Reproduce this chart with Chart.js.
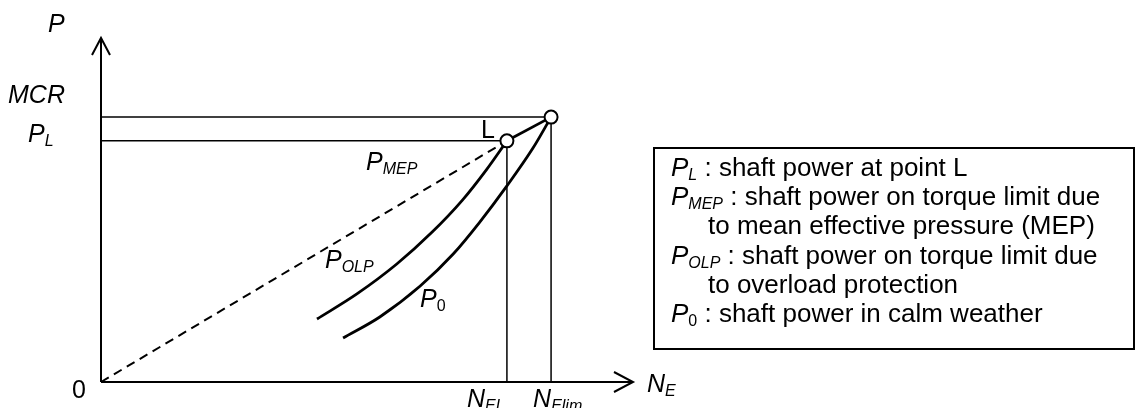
<!DOCTYPE html>
<html><head><meta charset="utf-8">
<script src="https://cdn.jsdelivr.net/npm/chart.js@4/dist/chart.umd.min.js"></script>
<style>html,body{margin:0;padding:0;background:#fff;overflow:hidden}#wrap{position:relative;width:1135px;height:408px}</style>
</head><body><div id="wrap"><canvas id="c" width="1135" height="408"></canvas></div>
<script>
// ---- data (schematic units, 0..100 on both axes) ----
const axisRange = [0, 100];
const NEL = 76.3, NElim = 84.6;      // engine speeds
const PL = 70.1, MCR = 77.0;         // powers
const olpX = [40.6, 48.1, 55.6, 62.2, 67.9, 72.4, 76.3];
const olpY = [18.3, 25.6, 34.3, 43.5, 52.8, 61.6, 70.1];
const p0X  = [45.5, 52.4, 60.0, 66.2, 71.2, 76.3, 81.2, 84.6];
const p0Y  = [12.8, 18.9, 27.9, 37.2, 46.5, 57.0, 68.0, 77.0];
const legendLines = [
  [{t:'P',i:1},{t:'L',i:1,s:1},{t:' : shaft power at point L'}],
  [{t:'P',i:1},{t:'MEP',i:1,s:1},{t:' : shaft power on torque limit due'}],
  [{t:'to mean effective pressure (MEP)',ind:1}],
  [{t:'P',i:1},{t:'OLP',i:1,s:1},{t:' : shaft power on torque limit due'}],
  [{t:'to overload protection',ind:1}],
  [{t:'P',i:1},{t:'0',s:1},{t:' : shaft power in calm weather'}]
];

const pts = (xs, ys) => xs.map((x, k) => ({x, y: ys[k]}));
const FAM = '"Liberation Sans", Arial, sans-serif';

function rich(ctx, x, y, parts, size, subSize) {
  let cx = x;
  for (const p of parts) {
    const sz = p.s ? subSize : size;
    ctx.font = (p.i ? 'italic ' : '') + sz + 'px ' + FAM;
    ctx.fillText(p.t, cx, y + (p.s ? 4 : 0));
    cx += ctx.measureText(p.t).width;
  }
}

const overlay = {
  id: 'overlay',
  beforeDatasetsDraw(chart) {
    const ctx = chart.ctx, xs = chart.scales.x, ys = chart.scales.y;
    const x0 = xs.getPixelForValue(0), y0 = ys.getPixelForValue(0);
    const xt = xs.getPixelForValue(axisRange[1]), yt = ys.getPixelForValue(axisRange[1]);
    ctx.save();
    ctx.strokeStyle = '#000'; ctx.lineWidth = 2; ctx.lineCap = 'butt';
    ctx.beginPath(); ctx.moveTo(x0, y0); ctx.lineTo(xt, y0); ctx.stroke();
    ctx.beginPath(); ctx.moveTo(x0, y0); ctx.lineTo(x0, yt); ctx.stroke();
    ctx.lineJoin = 'miter';
    ctx.beginPath(); ctx.moveTo(xt - 19, y0 - 10); ctx.lineTo(xt, y0); ctx.lineTo(xt - 19, y0 + 10); ctx.stroke();
    ctx.beginPath(); ctx.moveTo(x0 - 9, yt + 17); ctx.lineTo(x0, yt); ctx.lineTo(x0 + 9, yt + 17); ctx.stroke();
    ctx.restore();
  },
  afterDraw(chart) {
    const ctx = chart.ctx, xs = chart.scales.x, ys = chart.scales.y;
    const px = v => xs.getPixelForValue(v), py = v => ys.getPixelForValue(v);
    ctx.save();
    ctx.fillStyle = '#000'; ctx.textBaseline = 'alphabetic';
    const S = 25, SS = 16;
    rich(ctx, px(0) - 53, py(axisRange[1]) - 6, [{t:'P',i:1}], S, SS);
    rich(ctx, 8, py(MCR) - 14, [{t:'MCR',i:1}], S, SS);
    rich(ctx, 28, py(PL) + 1, [{t:'P',i:1},{t:'L',i:1,s:1}], S, SS);
    rich(ctx, px(0) - 29, py(0) + 16, [{t:'0'}], S, SS);
    rich(ctx, px(NEL) - 26, py(PL) - 3, [{t:'L'}], S, SS);
    rich(ctx, 366, 170, [{t:'P',i:1},{t:'MEP',i:1,s:1}], S, SS);
    rich(ctx, 325, 268, [{t:'P',i:1},{t:'OLP',i:1,s:1}], S, SS);
    rich(ctx, 420, 307, [{t:'P',i:1},{t:'0',s:1}], S, SS);
    rich(ctx, px(axisRange[1]) + 14, py(0) + 10, [{t:'N',i:1},{t:'E',i:1,s:1}], S, SS);
    rich(ctx, px(NEL) - 40, py(0) + 25, [{t:'N',i:1},{t:'EL',i:1,s:1}], S, SS);
    rich(ctx, px(NElim) - 18, py(0) + 25, [{t:'N',i:1},{t:'Elim',i:1,s:1}], S, SS);
    // legend box
    const bx = 654, by = 148, bw = 480, bh = 201;
    ctx.lineWidth = 2; ctx.strokeStyle = '#000';
    ctx.strokeRect(bx, by, bw, bh);
    legendLines.forEach((ln, k) => {
      const indent = ln[0].ind ? 54 : 17;
      rich(ctx, bx + indent, by + 28 + k * 29.2, ln, 26, 16);
    });
    ctx.restore();
  }
};

const black = '#000';
new Chart(document.getElementById('c'), {
  type: 'scatter',
  data: {
    datasets: [
      {data: [{x:NEL, y:PL}, {x:NElim, y:MCR}], showLine:false, pointRadius:6.5,
       pointBackgroundColor:'#fff', pointBorderColor:black, pointBorderWidth:2},
      {data: [{x:NEL, y:PL}, {x:NElim, y:MCR}], showLine:true, borderColor:black, borderWidth:2.8, pointRadius:0},
      {data: pts(olpX, olpY), showLine:true, borderColor:black, borderWidth:2.8, pointRadius:0, cubicInterpolationMode:'monotone'},
      {data: pts(p0X, p0Y), showLine:true, borderColor:black, borderWidth:2.8, pointRadius:0, cubicInterpolationMode:'monotone'},
      {data: [{x:0, y:0}, {x:NEL, y:PL}], showLine:true, borderColor:black, borderWidth:2, borderDash:[9,6], pointRadius:0},
      {data: [{x:0, y:MCR}, {x:NElim, y:MCR}], showLine:true, borderColor:black, borderWidth:1.5, pointRadius:0},
      {data: [{x:0, y:PL}, {x:NEL, y:PL}], showLine:true, borderColor:black, borderWidth:1.5, pointRadius:0},
      {data: [{x:NEL, y:0}, {x:NEL, y:PL}], showLine:true, borderColor:black, borderWidth:1.5, pointRadius:0},
      {data: [{x:NElim, y:0}, {x:NElim, y:MCR}], showLine:true, borderColor:black, borderWidth:1.5, pointRadius:0}
    ]
  },
  options: {
    responsive: false, animation: false, devicePixelRatio: 1,
    layout: {padding: {left: 101, right: 502, top: 38, bottom: 26}},
    scales: {
      x: {type:'linear', min:axisRange[0], max:axisRange[1], display:false},
      y: {type:'linear', min:axisRange[0], max:axisRange[1], display:false}
    },
    plugins: {legend:{display:false}, tooltip:{enabled:false}},
    elements: {line: {borderCapStyle:'butt'}},
    clip: false
  },
  plugins: [overlay]
});
</script>
</body></html>
